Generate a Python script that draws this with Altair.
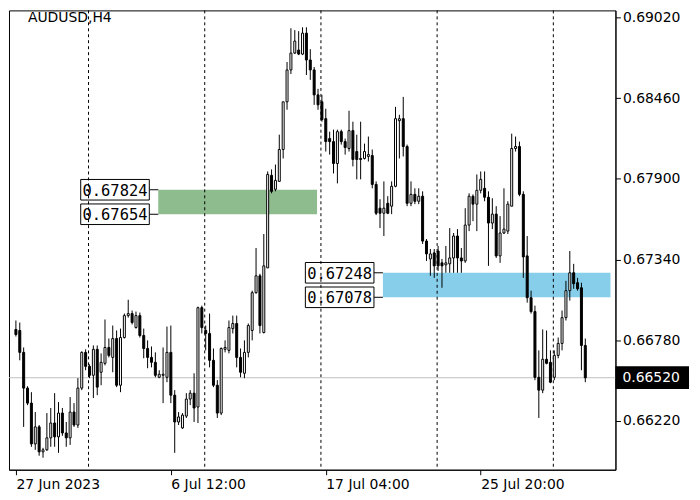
import altair as alt
import pandas as pd

symbol_title = "AUDUSD,H4"

opens = [0.66855,0.66848,0.66696,0.66448,0.66344,0.66061,0.66179,0.66006,0.66020,0.66103,
0.66206,0.66110,0.66275,0.66137,0.66103,0.66282,0.66192,0.66448,0.66696,0.66599,
0.66537,0.66717,0.66558,0.66620,0.66730,0.66661,0.66792,0.66468,0.66799,0.66951,
0.66965,0.66868,0.66951,0.66813,0.66723,0.66661,0.66627,0.66523,0.66537,0.66523,
0.66696,0.66399,0.66213,0.66172,0.66254,0.66372,0.66413,0.66317,0.67006,0.66848,
0.66827,0.66641,0.66468,0.66275,0.66717,0.66710,0.66861,0.66896,0.66661,0.66551,
0.66696,0.66848,0.67110,0.67227,0.66834,0.67282,0.67924,0.67827,0.67882,0.68103,
0.68434,0.68655,0.68772,0.68793,0.68765,0.68910,0.68724,0.68655,0.68482,0.68434,
0.68317,0.68179,0.68158,0.68006,0.68227,0.68158,0.68110,0.68234,0.68089,0.68041,
0.68041,0.68055,0.68061,0.67861,0.67696,0.67661,0.67730,0.67710,0.67848,0.68303,
0.68317,0.68124,0.67730,0.67792,0.67744,0.67779,0.67468,0.67344,0.67386,0.67399,
0.67317,0.67303,0.67310,0.67351,0.67503,0.67351,0.67330,0.67579,0.67779,0.67724,
0.67820,0.67834,0.67772,0.67593,0.67655,0.67365,0.67524,0.67537,0.67710,0.68110,
0.68124,0.67792,0.67365,0.67075,0.66979,0.66523,0.66434,0.66648,0.66627,0.66523,
0.66675,0.66758,0.66937,0.67124,0.67248,0.67179,0.67144,0.66744]

highs = [0.66917,0.66903,0.66730,0.66461,0.66420,0.66282,0.66192,0.66034,0.66275,0.66310,
0.66413,0.66351,0.66310,0.66213,0.66386,0.66344,0.66517,0.66703,0.66717,0.66613,
0.66744,0.66744,0.66689,0.66924,0.66792,0.66882,0.66848,0.66861,0.66965,0.67061,
0.66986,0.66979,0.66972,0.66861,0.66779,0.66737,0.66696,0.66572,0.66730,0.66875,
0.66882,0.66434,0.66282,0.66275,0.66413,0.66434,0.66551,0.67013,0.67020,0.66882,
0.66965,0.66723,0.66503,0.66730,0.66779,0.66917,0.66951,0.66951,0.66723,0.66779,
0.66896,0.67124,0.67420,0.67241,0.67517,0.67951,0.67965,0.67999,0.68206,0.68434,
0.68710,0.68944,0.68931,0.68924,0.68951,0.68951,0.68799,0.68675,0.68524,0.68482,
0.68386,0.68227,0.68241,0.68241,0.68241,0.68179,0.68372,0.68296,0.68206,0.68296,
0.68144,0.68193,0.68103,0.67882,0.67758,0.67882,0.67779,0.67882,0.68399,0.68344,
0.68468,0.68137,0.67882,0.67834,0.67834,0.67813,0.67482,0.67413,0.67413,0.67434,
0.67344,0.67434,0.67558,0.67524,0.67551,0.67420,0.67696,0.67799,0.67792,0.67930,
0.67951,0.67951,0.67813,0.67765,0.67710,0.67641,0.67834,0.67744,0.68213,0.68193,
0.68158,0.67813,0.67503,0.67124,0.67020,0.66710,0.66855,0.66848,0.66710,0.66710,
0.66799,0.66986,0.67192,0.67399,0.67310,0.67213,0.67179,0.66792]

lows = [0.66806,0.66641,0.66179,0.66330,0.66041,0.66020,0.65979,0.65965,0.66013,0.66041,
0.66041,0.65999,0.66117,0.66041,0.66054,0.66179,0.66172,0.66434,0.66572,0.66517,
0.66379,0.66399,0.66468,0.66606,0.66661,0.66558,0.66455,0.66420,0.66792,0.66937,
0.66889,0.66861,0.66799,0.66655,0.66586,0.66592,0.66523,0.66517,0.66344,0.66489,
0.66344,0.65999,0.66192,0.66165,0.66241,0.66330,0.66213,0.66206,0.66827,0.66710,
0.66592,0.66455,0.66241,0.66261,0.66696,0.66689,0.66827,0.66592,0.66523,0.66517,
0.66661,0.66779,0.67103,0.66827,0.66827,0.67282,0.67799,0.67813,0.67882,0.68041,
0.68379,0.68627,0.68765,0.68758,0.68758,0.68620,0.68586,0.68413,0.68379,0.68296,
0.68089,0.68068,0.67937,0.67868,0.68137,0.68068,0.68089,0.67986,0.67896,0.67896,
0.68034,0.68020,0.67834,0.67648,0.67558,0.67503,0.67655,0.67655,0.67841,0.68041,
0.68055,0.67710,0.67710,0.67724,0.67724,0.67448,0.67330,0.67227,0.67213,0.67261,
0.67144,0.67248,0.67248,0.67248,0.67248,0.67248,0.67317,0.67537,0.67606,0.67537,
0.67799,0.67744,0.67296,0.67551,0.67351,0.67317,0.67517,0.67517,0.67710,0.68089,
0.67779,0.67213,0.67041,0.66965,0.66503,0.66241,0.66413,0.66613,0.66482,0.66503,
0.66655,0.66710,0.66917,0.67055,0.67137,0.67124,0.66572,0.66489]

closes = [0.66820,0.66696,0.66448,0.66344,0.66061,0.66179,0.66006,0.66020,0.66103,0.66206,
0.66110,0.66275,0.66137,0.66103,0.66282,0.66192,0.66448,0.66696,0.66599,0.66537,
0.66717,0.66455,0.66627,0.66730,0.66675,0.66792,0.66468,0.66799,0.66951,0.66965,
0.66903,0.66951,0.66813,0.66723,0.66661,0.66627,0.66537,0.66544,0.66544,0.66696,
0.66399,0.66213,0.66248,0.66261,0.66372,0.66413,0.66310,0.67006,0.66868,0.66827,
0.66641,0.66468,0.66275,0.66723,0.66730,0.66868,0.66896,0.66661,0.66558,0.66696,
0.66882,0.67110,0.67227,0.66882,0.67296,0.67930,0.67813,0.67889,0.68103,0.68434,
0.68655,0.68772,0.68855,0.68765,0.68910,0.68724,0.68655,0.68482,0.68413,0.68310,
0.68158,0.68158,0.68006,0.68227,0.68158,0.68117,0.68234,0.68034,0.68034,0.68034,
0.68089,0.68068,0.67861,0.67661,0.67661,0.67696,0.67661,0.67848,0.68317,0.68317,
0.68124,0.67730,0.67792,0.67744,0.67779,0.67468,0.67379,0.67379,0.67296,0.67296,
0.67296,0.67317,0.67351,0.67503,0.67351,0.67330,0.67579,0.67779,0.67724,0.67820,
0.67896,0.67772,0.67593,0.67655,0.67365,0.67524,0.67551,0.67724,0.68110,0.68124,
0.67792,0.67358,0.67075,0.66979,0.66523,0.66434,0.66648,0.66620,0.66489,0.66675,
0.66758,0.66937,0.67124,0.67248,0.67172,0.67137,0.66744,0.66520]

tick_bars = [0, 40, 80, 120]
tick_labels = ["27 Jun 2023", "6 Jul 12:00", "17 Jul 04:00", "25 Jul 20:00"]
separator_bars = [18.75, 48.75, 78.75, 108.75, 138.75]
price_ticks = [0.6622, 0.6678, 0.6734, 0.6790, 0.6846, 0.6902]

zone_start = [36.75, 94.75]
zone_end = [77.75, 153.5]
zone_top = [0.67824, 0.67248]
zone_bottom = [0.67654, 0.67078]
zone_colors = ["#8fbc8f", "#87ceeb"]

W, H = 610, 462
xs = alt.Scale(domain=[-0.5, 153.5], nice=False, zero=False)
ys = alt.Scale(domain=[0.65882, 0.69068], nice=False, zero=False)

label_expr = " : ".join(
    f"datum.value == {b} ? '{t}'" for b, t in zip(tick_bars, tick_labels)
) + " : ''"

xaxis = alt.Axis(values=tick_bars, labelExpr=label_expr, labelAlign="left",
                 tickSize=5, labelPadding=3, grid=False, title=None,
                 labelFlush=False, labelBound=False, labelOverlap=False,
                 labelFont="DejaVu Sans", labelFontSize=14, labelColor="black",
                 tickColor="black", domainColor="black")
yaxis = alt.Axis(values=price_ticks, format=".5f", orient="right", tickSize=5,
                 labelPadding=2, grid=False, title=None, labelOverlap=False,
                 labelFont="DejaVu Sans", labelFontSize=14, labelColor="black",
                 tickColor="black", domainColor="black")

df = pd.DataFrame({"i": list(range(len(closes))), "open": opens, "high": highs,
                   "low": lows, "close": closes})

zones = pd.DataFrame({"s": zone_start, "e": zone_end, "top": zone_top,
                      "bot": zone_bottom, "c": zone_colors})
zone_layer = alt.Chart(zones).mark_rect().encode(
    x=alt.X("s:Q", scale=xs, axis=xaxis), x2="e:Q",
    y=alt.Y("top:Q", scale=ys, axis=yaxis), y2="bot:Q",
    color=alt.Color("c:N", scale=None))

lab = pd.DataFrame({
    "s": [zone_start[0], zone_start[0], zone_start[1], zone_start[1]],
    "p": [zone_top[0], zone_bottom[0], zone_top[1], zone_bottom[1]],
    "t": [f"{v:.5f}" for v in [zone_top[0], zone_bottom[0], zone_top[1], zone_bottom[1]]],
})
box_path = "M-1,-0.3L1,-0.3L1,0.3L-1,0.3Z"
lab_lines = alt.Chart(lab).mark_rule(color="black", strokeWidth=1, xOffset=-9, x2Offset=0).encode(
    x=alt.X("s:Q", scale=xs, axis=xaxis), x2="s:Q",
    y=alt.Y("p:Q", scale=ys, axis=yaxis))
lab_boxes = alt.Chart(lab).mark_point(shape=box_path, size=4761, filled=True, fill="white",
                                      stroke="black", strokeWidth=1, opacity=1,
                                      fillOpacity=1, strokeOpacity=1, xOffset=-43.5).encode(
    x=alt.X("s:Q", scale=xs, axis=xaxis), y=alt.Y("p:Q", scale=ys, axis=yaxis))
lab_text = alt.Chart(lab).mark_text(font="DejaVu Sans Mono", fontSize=15.5, color="black",
                                    align="center", baseline="middle", dx=-43.5, dy=1).encode(
    x=alt.X("s:Q", scale=xs, axis=xaxis), y=alt.Y("p:Q", scale=ys, axis=yaxis), text="t:N")

grid = alt.Chart(pd.DataFrame({"b": separator_bars})).mark_rule(
    color="black", strokeWidth=1, strokeDash=[3, 3]).encode(
    x=alt.X("b:Q", scale=xs, axis=xaxis))

last = pd.DataFrame({"p": [closes[-1]], "t": [f"{closes[-1]:.5f}"]})
price_line = alt.Chart(last).mark_rule(color="#c0c0c0", strokeWidth=1).encode(
    y=alt.Y("p:Q", scale=ys, axis=yaxis))

wicks = alt.Chart(df).mark_rule(color="black", strokeWidth=1).encode(
    x=alt.X("i:Q", scale=xs, axis=xaxis),
    y=alt.Y("low:Q", scale=ys, axis=yaxis), y2="high:Q")
bodies = alt.Chart(df).mark_bar(width=2, stroke="black", strokeWidth=1).encode(
    x=alt.X("i:Q", scale=xs, axis=xaxis),
    y=alt.Y("open:Q", scale=ys, axis=yaxis), y2="close:Q",
    fill=alt.condition("datum.close >= datum.open", alt.value("white"), alt.value("black")))

price_box = alt.Chart(last).mark_point(shape="M-1,-0.29L1,-0.29L1,0.29L-1,0.29Z", size=5184,
                                       filled=True, fill="black", stroke="black",
                                       opacity=1, fillOpacity=1).encode(
    x=alt.value(W + 37), y=alt.Y("p:Q", scale=ys, axis=yaxis))
price_text = alt.Chart(last).mark_text(font="DejaVu Sans", fontSize=14, color="white",
                                       align="left", baseline="middle").encode(
    x=alt.value(W + 7), y=alt.Y("p:Q", scale=ys, axis=yaxis), text="t:N")

title = alt.Chart(pd.DataFrame({"t": [symbol_title]})).mark_text(
    font="DejaVu Sans", fontSize=14, color="black", align="left", baseline="middle").encode(
    x=alt.value(19), y=alt.value(8), text="t:N")

chart = alt.layer(zone_layer, lab_lines, lab_boxes, lab_text, grid, price_line,
                  wicks, bodies, price_box, price_text, title).properties(
    width=W, height=H, padding=0, background="white"
).configure_view(stroke="black", strokeWidth=1)

chart.save("out.html", embed_options={"renderer": "svg", "actions": False})
